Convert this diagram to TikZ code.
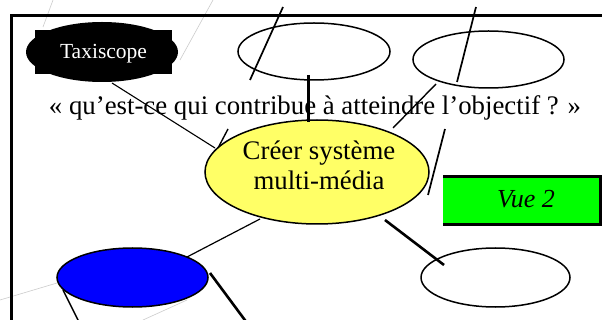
\documentclass[tikz,border=0pt]{standalone}
\usepackage{fontspec}
\setmainfont{Liberation Serif}
\usetikzlibrary{shapes.geometric}
\definecolor{cyel}{HTML}{FFFF66}
\definecolor{cgreen}{HTML}{00FF00}
\definecolor{cblue}{HTML}{0000FF}
\begin{document}
\begin{tikzpicture}[x=1pt,y=-1pt,
  oval/.style={ellipse, draw=black, line width=1.5pt, inner sep=0pt},
  faint/.style={draw=black!20, line width=0.6pt},
  link/.style={draw=black, line width=1.4pt},
  heavy/.style={draw=black, line width=2.6pt},
  bigtxt/.style={font=\fontsize{26.8}{30}\selectfont, inner sep=0pt}]
\useasboundingbox (0,0) rectangle (602,320);
\clip (0,0) rectangle (602,320);
\fill[white] (0,0) rectangle (602,320);
% faint background lines
\draw[faint] (53,0) -- (43,27);
\draw[faint] (213,0) -- (180,60);
\draw[faint] (0,300) -- (57,283);
\draw[faint] (143,320) -- (187,300);
% frame
\draw[line width=3pt] (11,330) -- (11,15.3) -- (610,15.3);
% Taxiscope plaque
\fill[black] (102,52) ellipse [x radius=76, y radius=30];
\fill[black] (35,30) rectangle (172,74);
\node[text=white, font=\fontsize{21.5}{24}\selectfont, inner sep=0pt, anchor=base] (taxi) at (103.5,59) {Taxiscope};
% ellipses
\node[oval, minimum width=152pt, minimum height=57pt] (e1) at (314,51.5) {};
\node[oval, minimum width=151pt, minimum height=57pt] (e2) at (488.5,59.5) {};
\node[oval, fill=cyel, minimum width=224pt, minimum height=104pt] (c) at (317,172) {};
\node[oval, minimum width=149pt, minimum height=59pt] (br) at (495.5,277.5) {};
\node[oval, fill=cblue, minimum width=151pt, minimum height=59pt] (bl) at (132.5,277.5) {};
% texts
\node[bigtxt, anchor=base] (q) at (315,115) {« qu’est-ce qui contribue à atteindre l’objectif ? »};
\node[bigtxt, anchor=base] (c1) at (319,160) {Créer système};
\node[bigtxt, anchor=base] (c2) at (319,190) {multi-média};
% Vue 2 box
\fill[cgreen] (443,175) rectangle (602,226);
\draw[line width=3pt] (443,176.5) -- (600.5,176.5) -- (600.5,224.5) -- (443,224.5);
\node[font=\fontsize{26}{30}\selectfont\itshape, inner sep=0pt, anchor=base] (vue) at (526,208) {Vue 2};
% connector end points
\coordinate (t1) at (112,83);   \coordinate (t2) at (215,148);
\coordinate (s1) at (228,129);  \coordinate (s2) at (218,148);
\coordinate (v1) at (308,75);   \coordinate (v2) at (308,122);
\coordinate (a1) at (283,7);    \coordinate (a2) at (250,80);
\coordinate (b1) at (476,7);    \coordinate (b2) at (457,82);
\coordinate (d1) at (436,84);   \coordinate (d2) at (393,128);
\coordinate (r1) at (445,129);  \coordinate (r2) at (428,195);
\coordinate (g1) at (385,220);  \coordinate (g2) at (444,265);
\coordinate (h1) at (260,219);  \coordinate (h2) at (187,257);
\coordinate (k1) at (210,273);  \coordinate (k2) at (253,331);
\coordinate (m1) at (63,290);   \coordinate (m2) at (83,330);
% connectors
\draw[draw=black, line width=1.1pt] (t1) -- (t2);
\draw[link] (s1) -- (s2);
\draw[line width=3pt] (v1) -- (v2);
\draw[link, line width=1.7pt] (a1) -- (a2);
\draw[link, line width=1.7pt] (b1) -- (b2);
\draw[link] (d1) -- (d2);
\draw[link, line width=1.7pt] (r1) -- (r2);
\draw[heavy] (g1) -- (g2);
\draw[draw=black, line width=1.2pt] (h1) -- (h2);
\draw[heavy] (k1) -- (k2);
\draw[link] (m1) -- (m2);
\end{tikzpicture}
\end{document}
